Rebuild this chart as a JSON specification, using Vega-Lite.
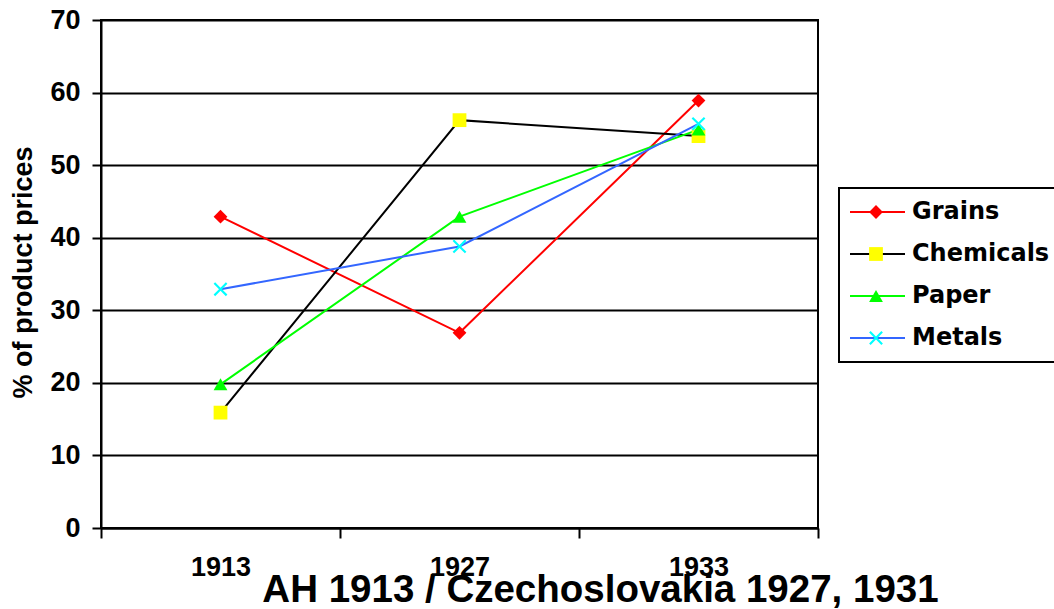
{
  "$schema": "https://vega.github.io/schema/vega-lite/v6.json",
  "width": 717,
  "height": 508,
  "autosize": {"type": "none"},
  "padding": {"left": 101, "top": 20, "right": 236, "bottom": 81},
  "background": "white",
  "config": {
    "view": {"stroke": "black", "strokeWidth": 2},
    "font": "Liberation Sans"
  },
  "data": {
    "values": [
      {"series": "Grains", "year": "1913", "value": 42.9},
      {"series": "Grains", "year": "1927", "value": 26.9},
      {"series": "Grains", "year": "1933", "value": 58.9},
      {"series": "Chemicals", "year": "1913", "value": 15.9},
      {"series": "Chemicals", "year": "1927", "value": 56.2},
      {"series": "Chemicals", "year": "1933", "value": 54.0},
      {"series": "Paper", "year": "1913", "value": 19.8},
      {"series": "Paper", "year": "1927", "value": 42.9},
      {"series": "Paper", "year": "1933", "value": 54.9},
      {"series": "Metals", "year": "1913", "value": 32.9},
      {"series": "Metals", "year": "1927", "value": 38.8},
      {"series": "Metals", "year": "1933", "value": 55.7}
    ]
  },
  "encoding": {
    "x": {
      "field": "year",
      "type": "ordinal",
      "bandPosition": 0.5,
      "scale": {"type": "band", "paddingInner": 0, "paddingOuter": 0},
      "axis": {
        "title": "AH 1913 / Czechoslovakia 1927, 1931",
        "titleFont": "Liberation Sans",
        "titleFontSize": 38.5,
        "titleFontWeight": "bold",
        "titleColor": "black",
        "titleX": 499,
        "titleY": 73,
        "titleBaseline": "alphabetic",
        "titleAlign": "center",
        "labelAngle": 0,
        "labelFont": "Liberation Sans",
        "labelFontSize": 27,
        "labelFontWeight": "bold",
        "labelColor": "black",
        "labelPadding": 16,
        "tickBand": "extent",
        "tickSize": 10,
        "tickColor": "black",
        "tickWidth": 2,
        "domainColor": "black",
        "domainWidth": 2,
        "grid": false
      }
    },
    "y": {
      "field": "value",
      "type": "quantitative",
      "scale": {"domain": [0, 70], "nice": false},
      "axis": {
        "title": "% of product prices",
        "titleFont": "Liberation Sans",
        "titleFontSize": 27,
        "titleFontWeight": "bold",
        "titleColor": "black",
        "titleX": -69.5,
        "titleY": 252,
        "titleAngle": -90,
        "titleBaseline": "alphabetic",
        "titleAlign": "center",
        "values": [0, 10, 20, 30, 40, 50, 60, 70],
        "labelFont": "Liberation Sans",
        "labelFontSize": 27,
        "labelFontWeight": "bold",
        "labelColor": "black",
        "labelPadding": 12,
        "tickSize": 9,
        "tickWidth": 2,
        "tickColor": "black",
        "domainColor": "black",
        "domainWidth": 2,
        "grid": true,
        "gridColor": "black",
        "gridWidth": 2,
        "gridOpacity": 1
      }
    }
  },
  "layer": [
    {
      "mark": {"type": "line", "strokeWidth": 2},
      "encoding": {
        "stroke": {
          "field": "series",
          "type": "nominal",
          "sort": ["Grains", "Chemicals", "Paper", "Metals"],
          "scale": {
            "range": ["#ff0000", "#000000", "#00ff00", "#3366ff"]
          },
          "legend": {
            "title": null,
            "orient": "none",
            "legendX": 738,
            "legendY": 168,
            "direction": "vertical",
            "symbolType": "stroke",
            "symbolSize": 3025,
            "symbolStrokeWidth": 2,
            "symbolOffset": 0,
            "labelOffset": 6,
            "labelFont": "DejaVu Sans",
            "labelFontSize": 24,
            "labelFontWeight": "bold",
            "labelColor": "black",
            "padding": 10,
            "clipHeight": 28,
            "rowPadding": 14,
            "strokeColor": "black",
            "fillColor": "white",
            "zindex": 0,
            "encode": {"legend": {"update": {"strokeWidth": {"value": 2}}}}
          }
        }
      }
    },
    {
      "mark": {"type": "point", "filled": true, "size": 190, "opacity": 1, "strokeWidth": 0},
      "encoding": {
        "fill": {
          "field": "series",
          "type": "nominal",
          "scale": {
            "domain": ["Grains", "Chemicals", "Paper", "Metals"],
            "range": ["#ff0000", "#ffff00", "#00ff00", "#00ffff"]
          },
          "legend": {
            "title": null,
            "orient": "none",
            "legendX": 738,
            "legendY": 168,
            "direction": "vertical",
            "symbolSize": 190,
            "symbolStrokeWidth": 0,
            "symbolOffset": 15,
            "labelExpr": "''",
            "labelFontSize": 24,
            "padding": 10,
            "clipHeight": 28,
            "rowPadding": 14,
            "zindex": 1
          }
        },
        "shape": {
          "field": "series",
          "type": "nominal",
          "scale": {
            "domain": ["Grains", "Chemicals", "Paper", "Metals"],
            "range": ["diamond", "square", "triangle-up", "M-1,-0.78L-0.78,-1L0,-0.22L0.78,-1L1,-0.78L0.22,0L1,0.78L0.78,1L0,0.22L-0.78,1L-1,0.78L-0.22,0Z"]
          },
          "legend": {
            "title": null,
            "orient": "none",
            "legendX": 738,
            "legendY": 168,
            "direction": "vertical",
            "symbolSize": 190,
            "symbolStrokeWidth": 0,
            "symbolOffset": 15,
            "labelExpr": "''",
            "labelFontSize": 24,
            "padding": 10,
            "clipHeight": 28,
            "rowPadding": 14,
            "zindex": 1
          }
        }
      }
    }
  ]
}
